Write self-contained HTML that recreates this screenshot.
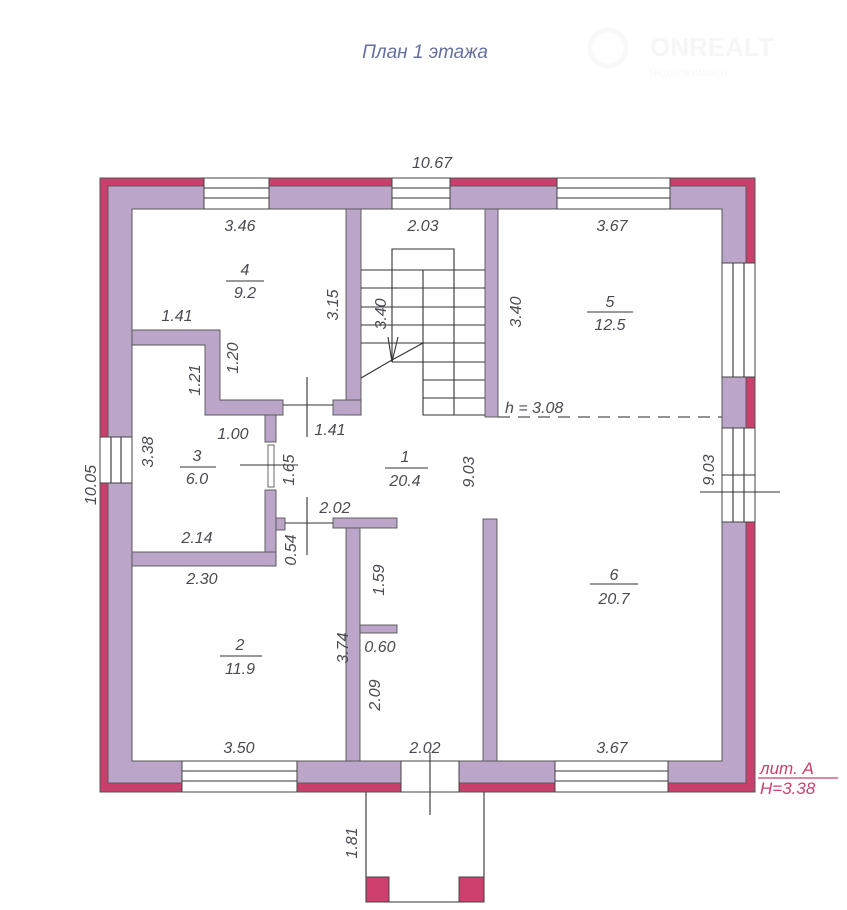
<!DOCTYPE html>
<html><head><meta charset="utf-8"><style>
html,body{margin:0;padding:0;background:#fff;}
svg{display:block;}
text{font-family:"Liberation Sans",sans-serif;font-style:italic;fill:#4a4a52;font-size:16px;}
.w{fill:#bba6c9;stroke:#555;stroke-width:0.9;}
.win{fill:#fff;stroke:#444;stroke-width:1;}
.l{stroke:#333;stroke-width:1.1;fill:none;}
</style></head><body>
<svg width="847" height="910" viewBox="0 0 847 910" xmlns="http://www.w3.org/2000/svg">
<text x="425" y="58" text-anchor="middle" style="fill:#6470a0;font-size:19px">План 1 этажа</text>
<g opacity="0.12">
<circle cx="608" cy="48" r="18" fill="none" stroke="#ccc" stroke-width="5"/>
<text x="650" y="56" style="fill:#bbb;font-size:26px;font-weight:bold;font-style:normal">ONREALT</text>
<text x="650" y="76" style="fill:#ccc;font-size:12px;font-style:normal">недвижимость</text>
</g>

<rect x="100" y="178" width="655" height="614" fill="#c8416c" stroke="#555" stroke-width="1"/>
<rect x="108" y="186" width="638" height="597" class="w"/>
<rect x="132" y="209" width="590" height="552" fill="#fff" stroke="#555" stroke-width="1"/>

<g class="win">
<rect x="204" y="178" width="65" height="31"/><rect x="392" y="178" width="58" height="31"/><rect x="557" y="178" width="113" height="31"/>
<rect x="722" y="263" width="33" height="114"/><rect x="722" y="428" width="33" height="94"/>
<rect x="100" y="437" width="32" height="46"/>
<rect x="182" y="761" width="115" height="31"/><rect x="401" y="761" width="58" height="31"/><rect x="555" y="761" width="113" height="31"/>
</g>
<g class="l">
<path d="M204 188H269M204 198H269M392 188H450M392 198H450M557 188H670M557 198H670"/>
<path d="M733 263V377M744 263V377M733 428V522M744 428V522M722 475H755"/>
<path d="M111 437V483M121 437V483"/>
<path d="M182 771H297M182 781H297M555 771H668M555 781H668"/>
</g>

<rect x="346" y="209" width="15" height="206" class="w"/>
<rect x="485" y="209" width="13" height="208" class="w"/>
<polygon points="132,330 220,330 220,400 283,400 283,415 205,415 205,345 132,345" class="w"/>
<rect x="333" y="400" width="28" height="15" class="w"/>
<rect x="265" y="415" width="11" height="27" class="w"/>
<rect x="265" y="490" width="11" height="76" class="w"/>
<rect x="268" y="445" width="6" height="42" fill="#fff" stroke="#444" stroke-width="0.8"/>
<rect x="132" y="552" width="144" height="14" class="w"/>
<rect x="276" y="518" width="9" height="12" class="w"/>
<rect x="333" y="518" width="64" height="10" class="w"/>
<rect x="346" y="528" width="14" height="233" class="w"/>
<rect x="360" y="625" width="37" height="8" class="w"/>
<rect x="483" y="519" width="14" height="242" class="w"/>
<path class="l" d="M283 405H333M285 523H333"/>

<g class="l">
<path d="M392 362V249H454V415M423 270V415H485"/>
<path d="M361 270H485M361 288H485M361 307H485M361 325H485M361 343H485M392 362H485M423 380H485M423 398H485"/>
<path d="M361 378 L392 360 L423 343"/>
<path d="M392 362 L388 337 M392 362 L398 337"/>
</g>
<path d="M498 417H722" stroke="#555" stroke-width="1.3" stroke-dasharray="12,8"/>

<g class="l">
<path d="M307 377V437M240 465H298M307 497V555M430 752V815M700 492H780"/>
</g>

<path class="l" d="M366 792V902H484V792"/>
<rect x="366" y="877" width="23" height="25" fill="#cf3f6e" stroke="#444"/>
<rect x="459" y="877" width="25" height="25" fill="#cf3f6e" stroke="#444"/>

<g text-anchor="middle">
<text x="432" y="168">10.67</text>
<text x="240" y="231">3.46</text>
<text x="423" y="231">2.03</text>
<text x="612" y="231">3.67</text>
<text x="245" y="275">4</text><path class="l" d="M226 281H264"/><text x="245" y="298">9.2</text>
<text x="177" y="321">1.41</text>
<text x="610" y="307">5</text><path class="l" d="M587 312H633"/><text x="610" y="330">12.5</text>
<text x="233" y="439">1.00</text>
<text x="330" y="435">1.41</text>
<text x="197" y="461">3</text><path class="l" d="M180 467H216"/><text x="197" y="484">6.0</text>
<text x="405" y="462">1</text><path class="l" d="M385 468H428"/><text x="405" y="486">20.4</text>
<text x="335" y="513">2.02</text>
<text x="197" y="543">2.14</text>
<text x="202" y="584">2.30</text>
<text x="614" y="580">6</text><path class="l" d="M590 584H638"/><text x="614" y="604">20.7</text>
<text x="380" y="652">0.60</text>
<text x="240" y="650">2</text><path class="l" d="M220 656H262"/><text x="240" y="674">11.9</text>
<text x="239" y="753">3.50</text>
<text x="425" y="753">2.02</text>
<text x="612" y="753">3.67</text>
</g>
<g text-anchor="middle">
<text transform="translate(338,305) rotate(-90)">3.15</text>
<text transform="translate(386,314) rotate(-90)">3.40</text>
<text transform="translate(521,312) rotate(-90)">3.40</text>
<text transform="translate(238,358) rotate(-90)">1.20</text>
<text transform="translate(200,380) rotate(-90)">1.21</text>
<text transform="translate(153,452) rotate(-90)">3.38</text>
<text transform="translate(294,470) rotate(-90)">1.65</text>
<text transform="translate(474,472) rotate(-90)">9.03</text>
<text transform="translate(714,470) rotate(-90)">9.03</text>
<text transform="translate(296,550) rotate(-90)">0.54</text>
<text transform="translate(384,580) rotate(-90)">1.59</text>
<text transform="translate(348,648) rotate(-90)">3.74</text>
<text transform="translate(380,695) rotate(-90)">2.09</text>
<text transform="translate(96,485) rotate(-90)">10.05</text>
<text transform="translate(357,843) rotate(-90)">1.81</text>
</g>
<text x="505" y="413">h = 3.08</text>
<text x="760" y="774" style="fill:#c8416c;font-size:17px">лит. А</text>
<path d="M758 778H838" stroke="#c8416c" stroke-width="1.2"/>
<text x="760" y="794" style="fill:#c8416c;font-size:17px">H=3.38</text>
</svg>
</body></html>
